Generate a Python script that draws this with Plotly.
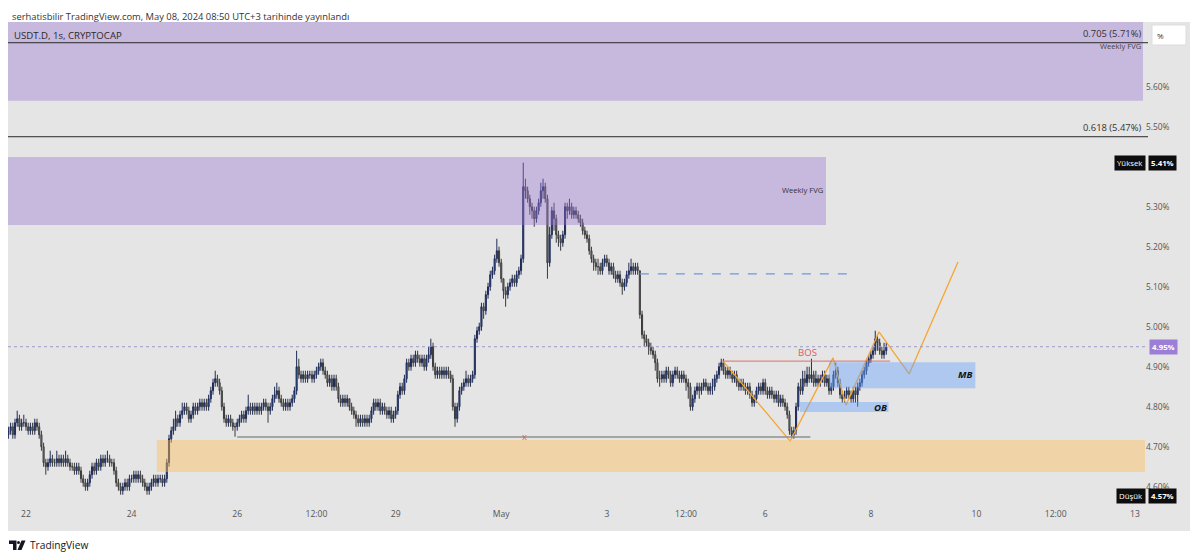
import plotly.graph_objects as go
import pandas as pd

# ---------------- DATA ----------------
start_time = "2024-04-21 16:00"
first_open = 4.73

closes = [
    4.74, 4.75, 4.73, 4.76, 4.77, 4.75, 4.76, 4.76,  # Apr 21
    4.75, 4.74, 4.75, 4.74, 4.76, 4.75, 4.73, 4.70, 4.66, 4.65, 4.66, 4.67, 4.66, 4.66, 4.67, 4.66, 4.67, 4.66, 4.67, 4.66, 4.65, 4.65, 4.64, 4.65,
    4.64, 4.62, 4.61, 4.60, 4.61, 4.63, 4.65, 4.64, 4.66, 4.65, 4.67, 4.66, 4.67, 4.67, 4.66, 4.66, 4.64, 4.61, 4.60, 4.59, 4.60, 4.61, 4.60, 4.62,
    4.62, 4.63, 4.62, 4.63, 4.62, 4.61, 4.60, 4.59, 4.60, 4.61, 4.62, 4.61, 4.62, 4.62, 4.61, 4.62, 4.66, 4.72, 4.74, 4.75, 4.77, 4.76, 4.78, 4.79,
    4.80, 4.79, 4.77, 4.78, 4.80, 4.79, 4.80, 4.81, 4.80, 4.81, 4.80, 4.82, 4.84, 4.86, 4.87, 4.86, 4.84, 4.80, 4.77, 4.76, 4.77, 4.76, 4.75, 4.75,
    4.76, 4.77, 4.78, 4.77, 4.79, 4.80, 4.79, 4.80, 4.79, 4.80, 4.79, 4.80, 4.81, 4.80, 4.79, 4.80, 4.82, 4.83, 4.84, 4.82, 4.81, 4.80, 4.81, 4.80,
    4.81, 4.82, 4.84, 4.90, 4.88, 4.87, 4.88, 4.87, 4.88, 4.88, 4.87, 4.88, 4.89, 4.90, 4.91, 4.89, 4.88, 4.86, 4.87, 4.85, 4.87, 4.85, 4.82, 4.81,
    4.82, 4.81, 4.82, 4.80, 4.79, 4.78, 4.77, 4.76, 4.77, 4.76, 4.77, 4.76, 4.77, 4.79, 4.81, 4.80, 4.81, 4.79, 4.80, 4.79, 4.78, 4.79, 4.77, 4.78,
    4.79, 4.83, 4.85, 4.84, 4.87, 4.91, 4.90, 4.92, 4.91, 4.93, 4.92, 4.91, 4.92, 4.90, 4.92, 4.93, 4.95, 4.90, 4.88, 4.89, 4.88, 4.89, 4.88, 4.89,
    4.88, 4.87, 4.80, 4.77, 4.80, 4.84, 4.85, 4.86, 4.87, 4.86, 4.87, 4.88, 4.97, 4.99, 5.00, 5.05, 5.04, 5.08, 5.10, 5.13, 5.14, 5.17, 5.19, 5.16,
    5.12, 5.09, 5.08, 5.10, 5.11, 5.12, 5.11, 5.13, 5.14, 5.17, 5.35, 5.34, 5.32, 5.30, 5.29, 5.27, 5.29, 5.31, 5.34, 5.35, 5.32, 5.16, 5.23, 5.29,
    5.27, 5.23, 5.22, 5.21, 5.23, 5.30, 5.29, 5.30, 5.28, 5.29, 5.28, 5.27, 5.26, 5.24, 5.23, 5.22, 5.19, 5.17, 5.16, 5.15, 5.15, 5.14, 5.16, 5.17,
    5.16, 5.14, 5.15, 5.13, 5.12, 5.13, 5.11, 5.10, 5.11, 5.13, 5.14, 5.15, 5.14, 5.15, 5.14, 5.03, 4.98, 4.97, 4.96, 4.95, 4.94, 4.93, 4.91, 4.87,
    4.87, 4.88, 4.87, 4.89, 4.88, 4.86, 4.88, 4.89, 4.88, 4.87, 4.88, 4.87, 4.86, 4.85, 4.80, 4.82, 4.84, 4.85, 4.84, 4.85, 4.86, 4.85, 4.84, 4.85,
    4.85, 4.87, 4.88, 4.90, 4.91, 4.89, 4.88, 4.89, 4.88, 4.87, 4.88, 4.86, 4.85, 4.86, 4.85, 4.84, 4.85, 4.83, 4.81, 4.82, 4.84, 4.85, 4.84, 4.86,
    4.84, 4.83, 4.84, 4.83, 4.82, 4.83, 4.81, 4.82, 4.81, 4.80, 4.78, 4.74, 4.73, 4.74, 4.80, 4.85, 4.84, 4.87, 4.86, 4.88, 4.87, 4.88, 4.86, 4.87,
    4.86, 4.87, 4.88, 4.86, 4.87, 4.84, 4.85, 4.88, 4.89, 4.86, 4.83, 4.82, 4.83, 4.84, 4.83, 4.82, 4.84, 4.83, 4.85, 4.86, 4.88, 4.89, 4.91, 4.92,
    4.93, 4.94, 4.97, 4.96, 4.94, 4.93, 4.94, 4.95,  # May 8
]

highs = [
    4.75, 4.76, 4.76, 4.77, 4.79, 4.78, 4.77, 4.78,
    4.77, 4.76, 4.76, 4.76, 4.77, 4.77, 4.76, 4.74, 4.71, 4.67, 4.67, 4.69, 4.68, 4.67, 4.69, 4.68, 4.68, 4.68, 4.69, 4.68, 4.67, 4.66, 4.66, 4.66,
    4.66, 4.65, 4.63, 4.62, 4.62, 4.64, 4.66, 4.66, 4.67, 4.67, 4.68, 4.68, 4.68, 4.69, 4.68, 4.67, 4.67, 4.65, 4.62, 4.61, 4.61, 4.62, 4.62, 4.63,
    4.63, 4.64, 4.64, 4.64, 4.64, 4.63, 4.62, 4.61, 4.61, 4.62, 4.63, 4.63, 4.63, 4.63, 4.63, 4.63, 4.67, 4.73, 4.75, 4.77, 4.79, 4.78, 4.79, 4.81,
    4.81, 4.81, 4.80, 4.79, 4.81, 4.81, 4.81, 4.82, 4.82, 4.82, 4.82, 4.83, 4.85, 4.87, 4.89, 4.88, 4.87, 4.85, 4.81, 4.78, 4.78, 4.78, 4.77, 4.76,
    4.77, 4.78, 4.79, 4.79, 4.80, 4.83, 4.81, 4.81, 4.81, 4.81, 4.81, 4.81, 4.82, 4.82, 4.81, 4.81, 4.83, 4.85, 4.86, 4.85, 4.83, 4.82, 4.82, 4.82,
    4.82, 4.83, 4.85, 4.94, 4.92, 4.89, 4.89, 4.89, 4.89, 4.89, 4.89, 4.89, 4.90, 4.91, 4.92, 4.92, 4.90, 4.89, 4.88, 4.88, 4.88, 4.88, 4.86, 4.83,
    4.83, 4.83, 4.83, 4.82, 4.81, 4.80, 4.79, 4.78, 4.78, 4.78, 4.78, 4.78, 4.78, 4.80, 4.82, 4.82, 4.82, 4.82, 4.81, 4.81, 4.80, 4.80, 4.80, 4.79,
    4.80, 4.84, 4.86, 4.86, 4.88, 4.92, 4.92, 4.93, 4.93, 4.94, 4.94, 4.93, 4.93, 4.93, 4.93, 4.95, 4.97, 4.96, 4.91, 4.90, 4.90, 4.90, 4.90, 4.90,
    4.90, 4.89, 4.88, 4.81, 4.81, 4.85, 4.86, 4.87, 4.89, 4.88, 4.88, 4.89, 4.98, 5.00, 5.01, 5.06, 5.06, 5.09, 5.11, 5.14, 5.15, 5.18, 5.22, 5.20,
    5.17, 5.12, 5.10, 5.11, 5.12, 5.13, 5.13, 5.14, 5.15, 5.18, 5.41, 5.37, 5.35, 5.33, 5.31, 5.30, 5.30, 5.32, 5.36, 5.37, 5.36, 5.33, 5.25, 5.30,
    5.31, 5.28, 5.24, 5.23, 5.24, 5.31, 5.31, 5.32, 5.31, 5.30, 5.30, 5.29, 5.28, 5.27, 5.25, 5.24, 5.23, 5.20, 5.18, 5.17, 5.17, 5.16, 5.17, 5.18,
    5.18, 5.17, 5.16, 5.16, 5.14, 5.14, 5.14, 5.12, 5.12, 5.14, 5.16, 5.17, 5.16, 5.16, 5.16, 5.14, 5.04, 4.99, 4.98, 4.97, 4.96, 4.95, 4.94, 4.92,
    4.89, 4.89, 4.89, 4.90, 4.90, 4.89, 4.89, 4.90, 4.90, 4.89, 4.89, 4.89, 4.88, 4.87, 4.86, 4.83, 4.85, 4.86, 4.86, 4.86, 4.87, 4.87, 4.86, 4.86,
    4.87, 4.88, 4.89, 4.91, 4.92, 4.92, 4.90, 4.90, 4.90, 4.89, 4.89, 4.89, 4.87, 4.87, 4.87, 4.86, 4.86, 4.86, 4.84, 4.83, 4.85, 4.86, 4.86, 4.87,
    4.87, 4.85, 4.85, 4.85, 4.84, 4.84, 4.84, 4.83, 4.83, 4.82, 4.81, 4.79, 4.75, 4.75, 4.81, 4.86, 4.87, 4.89, 4.89, 4.90, 4.90, 4.92, 4.89, 4.89,
    4.88, 4.88, 4.89, 4.89, 4.88, 4.88, 4.86, 4.89, 4.91, 4.90, 4.87, 4.84, 4.84, 4.85, 4.85, 4.84, 4.85, 4.85, 4.86, 4.87, 4.89, 4.90, 4.92, 4.93,
    4.94, 4.95, 4.99, 4.98, 4.97, 4.95, 4.96, 4.96,
]

lows = [
    4.72, 4.73, 4.72, 4.72, 4.75, 4.74, 4.74, 4.75,
    4.74, 4.73, 4.73, 4.73, 4.73, 4.74, 4.72, 4.69, 4.65, 4.63, 4.64, 4.65, 4.65, 4.65, 4.65, 4.65, 4.65, 4.65, 4.65, 4.65, 4.64, 4.64, 4.63, 4.63,
    4.63, 4.61, 4.60, 4.59, 4.59, 4.60, 4.62, 4.63, 4.63, 4.64, 4.64, 4.65, 4.65, 4.66, 4.65, 4.65, 4.63, 4.60, 4.59, 4.58, 4.58, 4.59, 4.59, 4.59,
    4.61, 4.61, 4.61, 4.61, 4.61, 4.60, 4.59, 4.58, 4.58, 4.59, 4.60, 4.60, 4.60, 4.61, 4.60, 4.60, 4.61, 4.65, 4.71, 4.73, 4.74, 4.75, 4.75, 4.77,
    4.78, 4.78, 4.76, 4.76, 4.77, 4.78, 4.78, 4.79, 4.79, 4.79, 4.79, 4.79, 4.81, 4.83, 4.85, 4.85, 4.83, 4.79, 4.76, 4.75, 4.75, 4.75, 4.74, 4.725,
    4.74, 4.75, 4.76, 4.76, 4.76, 4.78, 4.78, 4.78, 4.78, 4.78, 4.78, 4.78, 4.79, 4.79, 4.76, 4.78, 4.79, 4.81, 4.82, 4.81, 4.80, 4.79, 4.79, 4.79,
    4.79, 4.80, 4.81, 4.83, 4.87, 4.86, 4.86, 4.86, 4.86, 4.87, 4.86, 4.86, 4.87, 4.88, 4.89, 4.88, 4.87, 4.85, 4.85, 4.84, 4.84, 4.84, 4.81, 4.80,
    4.80, 4.80, 4.80, 4.79, 4.78, 4.77, 4.75, 4.75, 4.75, 4.75, 4.75, 4.75, 4.75, 4.76, 4.78, 4.79, 4.79, 4.78, 4.78, 4.78, 4.77, 4.77, 4.76, 4.76,
    4.77, 4.78, 4.82, 4.83, 4.83, 4.86, 4.89, 4.89, 4.90, 4.90, 4.91, 4.90, 4.90, 4.89, 4.89, 4.91, 4.92, 4.89, 4.87, 4.87, 4.87, 4.87, 4.87, 4.87,
    4.87, 4.86, 4.79, 4.75, 4.76, 4.79, 4.83, 4.84, 4.85, 4.85, 4.85, 4.86, 4.87, 4.96, 4.98, 4.99, 5.02, 5.03, 5.07, 5.09, 5.12, 5.13, 5.16, 5.15,
    5.11, 5.07, 5.05, 5.07, 5.09, 5.10, 5.10, 5.10, 5.12, 5.13, 5.16, 5.32, 5.31, 5.28, 5.27, 5.25, 5.26, 5.28, 5.30, 5.32, 5.31, 5.12, 5.15, 5.22,
    5.24, 5.21, 5.20, 5.19, 5.20, 5.22, 5.27, 5.28, 5.27, 5.27, 5.27, 5.26, 5.25, 5.23, 5.22, 5.21, 5.18, 5.16, 5.14, 5.14, 5.13, 5.13, 5.13, 5.15,
    5.15, 5.13, 5.13, 5.12, 5.11, 5.11, 5.10, 5.08, 5.09, 5.10, 5.12, 5.13, 5.13, 5.13, 5.13, 5.02, 4.97, 4.95, 4.95, 4.93, 4.93, 4.92, 4.89, 4.86,
    4.85, 4.86, 4.86, 4.86, 4.87, 4.85, 4.85, 4.87, 4.87, 4.86, 4.86, 4.86, 4.84, 4.82, 4.79, 4.79, 4.81, 4.83, 4.82, 4.83, 4.84, 4.84, 4.83, 4.83,
    4.83, 4.84, 4.86, 4.87, 4.89, 4.88, 4.87, 4.87, 4.87, 4.86, 4.86, 4.85, 4.84, 4.84, 4.84, 4.83, 4.83, 4.82, 4.80, 4.80, 4.81, 4.83, 4.83, 4.83,
    4.83, 4.82, 4.82, 4.82, 4.81, 4.81, 4.80, 4.80, 4.80, 4.79, 4.77, 4.73, 4.72, 4.72, 4.73, 4.79, 4.83, 4.83, 4.85, 4.85, 4.86, 4.86, 4.85, 4.85,
    4.85, 4.85, 4.86, 4.85, 4.85, 4.83, 4.83, 4.84, 4.87, 4.85, 4.82, 4.81, 4.81, 4.82, 4.82, 4.81, 4.81, 4.81, 4.80, 4.84, 4.85, 4.87, 4.88, 4.90,
    4.91, 4.92, 4.93, 4.94, 4.93, 4.92, 4.92, 4.93,
]

# Price axis ticks
price_ticks = [4.6, 4.7, 4.8, 4.9, 5.0, 5.1, 5.2, 5.3, 5.5, 5.6]

# Time axis ticks
time_tick_vals = ["2024-04-22", "2024-04-24", "2024-04-26", "2024-04-27 12:00", "2024-04-29",
                  "2024-05-01", "2024-05-03", "2024-05-04 12:00", "2024-05-06", "2024-05-08",
                  "2024-05-10", "2024-05-11 12:00", "2024-05-13"]
time_tick_text = ["22", "24", "26", "12:00", "29", "May", "3", "12:00", "6", "8", "10", "12:00", "13"]

# Drawing levels (prices)
fib_705 = 5.71
fib_618 = 5.475
fvg_top = [5.565, 5.775]
fvg_mid = [5.254, 5.424]
demand_zone = [4.637, 4.717]
equal_lows = 4.724
dashed_level = 5.132
last_price = 4.95
bos_level = 4.914
mb_zone = [4.846, 4.911]
ob_zone = [4.787, 4.812]

zigzag_times = ["2024-05-05 04:48", "2024-05-06 11:18", "2024-05-07 06:48", "2024-05-07 12:42",
                "2024-05-08 03:42", "2024-05-08 17:24", "2024-05-09 15:36"]
zigzag_prices = [4.914, 4.714, 4.922, 4.804, 4.987, 4.882, 5.162]

# ---------------- BUILD ----------------
if not (len(closes) == len(highs) == len(lows)):
    raise ValueError(f"length mismatch {len(closes)} {len(highs)} {len(lows)}")

times = pd.date_range(start_time, periods=len(closes), freq="h")
opens = [first_open] + closes[:-1]
hi = [max(h, o, c) for h, o, c in zip(highs, opens, closes)]
lo = [min(l, o, c) for l, o, c in zip(lows, opens, closes)]

# The page body adds an 8px margin; the figure is sized so that the plot
# area lands at x 8..1145, y 22..507 of the window.
OFF = 8
W, H = 1192, 552
PLOT_L, PLOT_R, PLOT_T, PLOT_B = 8, 1145, 22, 507   # window coordinates
L = PLOT_L - OFF
T = PLOT_T - OFF
R = W - (PLOT_R - OFF)
B = H - (PLOT_B - OFF)
PW, PH = PLOT_R - PLOT_L, PLOT_B - PLOT_T


def px(x):
    return (x - PLOT_L) / PW


def py(y):
    return (PLOT_B - y) / PH


FONT = "Open Sans"

fig = go.Figure()
fig.add_trace(go.Candlestick(
    x=times, open=opens, high=hi, low=lo, close=closes,
    increasing=dict(line=dict(color="#1f2b55", width=1), fillcolor="#2d56a8"),
    decreasing=dict(line=dict(color="#3a3a3a", width=1), fillcolor="#8c8c8c"),
    whiskerwidth=0, hoverinfo="skip", showlegend=False,
))

fig.add_trace(go.Scatter(
    x=zigzag_times, y=zigzag_prices, mode="lines",
    line=dict(color="#f5a533", width=1.3), hoverinfo="skip", showlegend=False,
))

x_start = "2024-04-21 15:49"
x_end = "2024-05-13 04:36"

shapes = []
shapes.append(dict(type="rect", xref="paper", yref="paper", x0=0, x1=px(1190), y0=py(531), y1=1,
                   fillcolor="#e5e5e5", line=dict(width=0), layer="below"))
shapes.append(dict(type="rect", xref="paper", yref="y", x0=0, x1=px(1143), y0=fvg_top[0], y1=fvg_top[1],
                   fillcolor="rgba(156,118,212,0.40)", line=dict(width=0), layer="above"))
shapes.append(dict(type="line", xref="paper", yref="y", x0=0, x1=px(1148), y0=fib_705, y1=fib_705,
                   line=dict(color="#2a2a2a", width=1)))
shapes.append(dict(type="line", xref="paper", yref="y", x0=0, x1=px(1148), y0=fib_618, y1=fib_618,
                   line=dict(color="#2a2a2a", width=1)))
shapes.append(dict(type="rect", xref="x", yref="y", x0=x_start, x1="2024-05-07 03:36", y0=fvg_mid[0], y1=fvg_mid[1],
                   fillcolor="rgba(156,118,212,0.40)", line=dict(width=0), layer="above"))
shapes.append(dict(type="rect", xref="x", yref="y", x0="2024-04-24 11:30", x1=x_end, y0=demand_zone[0], y1=demand_zone[1],
                   fillcolor="rgba(253,190,92,0.45)", line=dict(width=0), layer="above"))
shapes.append(dict(type="line", xref="x", yref="y", x0="2024-04-26 00:00", x1="2024-05-06 20:30",
                   y0=equal_lows, y1=equal_lows, line=dict(color="#8f8f8f", width=1.5)))
shapes.append(dict(type="line", xref="x", yref="y", x0="2024-05-03 15:00", x1="2024-05-07 13:40",
                   y0=dashed_level, y1=dashed_level, line=dict(color="#6b97e6", width=1.2, dash="dash")))
shapes.append(dict(type="line", xref="paper", yref="y", x0=0, x1=1, y0=last_price, y1=last_price,
                   line=dict(color="#a09cc8", width=1, dash="dot")))
shapes.append(dict(type="line", xref="x", yref="y", x0="2024-05-05 04:30", x1="2024-05-08 08:45",
                   y0=bos_level, y1=bos_level, line=dict(color="#e06a6a", width=1)))
shapes.append(dict(type="rect", xref="x", yref="y", x0="2024-05-07 05:00", x1="2024-05-09 23:30",
                   y0=mb_zone[0], y1=mb_zone[1], fillcolor="rgba(107,165,253,0.45)", line=dict(width=0), layer="above"))
shapes.append(dict(type="rect", xref="x", yref="y", x0="2024-05-06 15:45", x1="2024-05-08 08:00",
                   y0=ob_zone[0], y1=ob_zone[1], fillcolor="rgba(107,165,253,0.45)", line=dict(width=0), layer="above"))
# % button
shapes.append(dict(type="rect", xref="paper", yref="paper", x0=px(1152), x1=px(1186), y0=py(45), y1=py(25),
                   fillcolor="white", line=dict(color="#dddddd", width=1)))


# TradingView logo glyph (window coords)
def path(points):
    return "M " + " L ".join(f"{px(x):.5f},{py(y):.5f}" for x, y in points) + " Z"


shapes.append(dict(type="path", xref="paper", yref="paper",
                   path=path([(9, 540.5), (16.5, 540.5), (16.5, 550), (13, 550), (13, 544), (9, 544)]),
                   fillcolor="#131722", line=dict(width=0)))
shapes.append(dict(type="circle", xref="paper", yref="paper", x0=px(17), x1=px(20), y0=py(544), y1=py(541),
                   fillcolor="#131722", line=dict(width=0)))
shapes.append(dict(type="path", xref="paper", yref="paper",
                   path=path([(21.5, 540.5), (25.5, 540.5), (21.5, 550), (17.5, 550)]),
                   fillcolor="#131722", line=dict(width=0)))

annotations = []


def ann(text, x, y, size=10, color="#333333", xanchor="center", bg=None, bold=False, italic=False, pad=1,
        yanchor="middle"):
    t = text
    if bold:
        t = f"<b>{t}</b>"
    if italic:
        t = f"<i>{t}</i>"
    d = dict(text=t, x=px(x), y=py(y), xref="paper", yref="paper", xanchor=xanchor, yanchor=yanchor,
             showarrow=False, font=dict(family=FONT, size=size, color=color))
    if bg:
        d.update(bgcolor=bg, borderpad=pad)
    annotations.append(d)


# title: top-anchored at the figure's top edge (window y = 8)
ann("serhatisbilir TradingView.com, May 08, 2024 08:50 UTC+3 tarihinde yayınlandı", 10, 8, size=9.4,
    color="#333333", xanchor="left", yanchor="top", pad=0)
ann("USDT.D, 1s, CRYPTOCAP", 12, 35, size=9.6, color="#2a2a2a", xanchor="left")
ann("0.705 (5.71%)", 1143, 33, size=9.4, color="#333333", xanchor="right")
ann("Weekly FVG", 1143, 46, size=7.6, color="#444444", xanchor="right")
ann("0.618 (5.47%)", 1143, 127, size=9.4, color="#333333", xanchor="right")
ann("Weekly FVG", 802, 190, size=7.6, color="#333333")
ann("BOS", 807, 352, size=9.6, color="#e05a5a")
ann("x", 524, 436, size=9.6, color="#e05a5a")
ann("MB", 965, 374, size=9.6, color="#111111", bold=True, italic=True)
ann("OB", 880, 407, size=9.6, color="#111111", bold=True, italic=True)
ann("%", 1160, 35, size=8, color="#333333")

ann("Yüksek", 1130, 163, size=7.8, color="white", bg="#0d0d0d", pad=2)
ann("5.41%", 1162, 163, size=7.8, color="white", bg="#0d0d0d", pad=2, bold=True)
ann("Düşük", 1131, 496, size=7.8, color="white", bg="#0d0d0d", pad=2)
ann("4.57%", 1162, 496, size=7.8, color="white", bg="#0d0d0d", pad=2, bold=True)
ann("4.95%", 1163, 347, size=7.8, color="white", bg="#9b7fd6", pad=2, bold=True)

ann("TradingView", 28, 545, size=10.2, color="#131722", xanchor="left")

fig.update_layout(
    width=W, height=H,
    margin=dict(l=L, r=R, t=T, b=B),
    paper_bgcolor="white", plot_bgcolor="#e5e5e5",
    shapes=shapes, annotations=annotations,
    font=dict(family=FONT, size=9, color="#555555"),
    showlegend=False,
    xaxis=dict(
        type="date", range=[x_start, x_end], rangeslider=dict(visible=False),
        tickvals=time_tick_vals, ticktext=time_tick_text, showgrid=False, zeroline=False,
        showline=False, ticks="", tickfont=dict(size=8.6, color="#555555"), fixedrange=True,
    ),
    yaxis=dict(
        side="right", range=[4.5493, 5.7618], tickvals=price_ticks,
        ticktext=[f"{v:.2f}%" for v in price_ticks], showgrid=False, zeroline=False,
        showline=False, ticks="", tickfont=dict(size=8.4, color="#555555"), fixedrange=True,
    ),
)

fig.write_html("out.html")
